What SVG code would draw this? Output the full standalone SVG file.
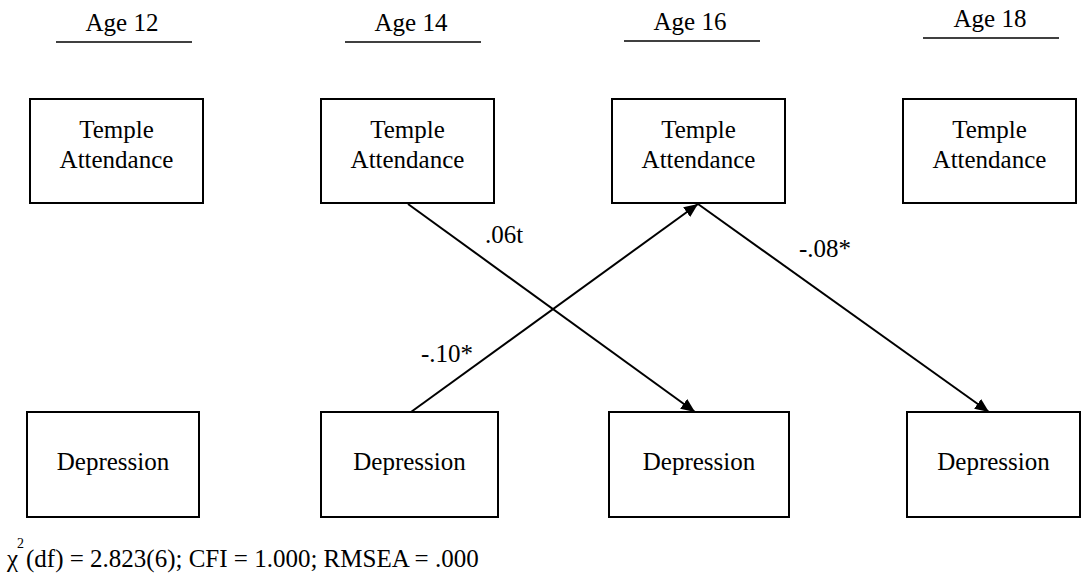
<svg xmlns="http://www.w3.org/2000/svg" width="1086" height="581" viewBox="0 0 1086 581">
  <style>
    .box { fill: #fff; stroke: #000; stroke-width: 2; }
    .rule { stroke: #000; stroke-width: 1.5; }
    .edge { stroke: #000; stroke-width: 2; fill: none; marker-end: url(#arrow); }
  </style>
  <defs>
    <marker id="arrow" markerUnits="userSpaceOnUse" markerWidth="16" markerHeight="14" refX="14" refY="6" orient="auto">
      <path d="M0,0 L14,6 L0,12 Z" fill="#000"/>
    </marker>
  </defs>
  <rect width="1086" height="581" fill="#fff"/>

  <g font-family="'Liberation Serif', 'Times New Roman', serif" font-size="25" fill="#000">
    <!-- wave headers -->
    <g id="headers" text-anchor="middle">
      <text x="122" y="31">Age 12</text>
      <line class="rule" x1="56" y1="42" x2="192" y2="42"/>
      <text x="411" y="31">Age 14</text>
      <line class="rule" x1="345" y1="42" x2="481" y2="42"/>
      <text x="690" y="30">Age 16</text>
      <line class="rule" x1="624" y1="41" x2="760" y2="41"/>
      <text x="990" y="27">Age 18</text>
      <line class="rule" x1="923" y1="38" x2="1059" y2="38"/>
    </g>

    <!-- temple attendance row -->
    <g id="ta12" text-anchor="middle">
      <rect class="box" x="30" y="99" width="173" height="104"/>
      <text x="116.5" y="138">Temple</text>
      <text x="116.5" y="168">Attendance</text>
    </g>
    <g id="ta14" text-anchor="middle">
      <rect class="box" x="321" y="99" width="173" height="104"/>
      <text x="407.5" y="138">Temple</text>
      <text x="407.5" y="168">Attendance</text>
    </g>
    <g id="ta16" text-anchor="middle">
      <rect class="box" x="612" y="99" width="173" height="104"/>
      <text x="698.5" y="138">Temple</text>
      <text x="698.5" y="168">Attendance</text>
    </g>
    <g id="ta18" text-anchor="middle">
      <rect class="box" x="903" y="99" width="173" height="104"/>
      <text x="989.5" y="138">Temple</text>
      <text x="989.5" y="168">Attendance</text>
    </g>

    <!-- depression row -->
    <g id="dep12" text-anchor="middle">
      <rect class="box" x="27" y="412" width="172" height="105"/>
      <text x="113" y="470">Depression</text>
    </g>
    <g id="dep14" text-anchor="middle">
      <rect class="box" x="321" y="412" width="177" height="105"/>
      <text x="409.5" y="470">Depression</text>
    </g>
    <g id="dep16" text-anchor="middle">
      <rect class="box" x="609" y="412" width="180" height="105"/>
      <text x="699" y="470">Depression</text>
    </g>
    <g id="dep18" text-anchor="middle">
      <rect class="box" x="907" y="412" width="173" height="105"/>
      <text x="993.5" y="470">Depression</text>
    </g>

    <!-- cross-lagged paths -->
    <g id="connectors">
      <line class="edge" x1="408" y1="204" x2="695" y2="412"/>
      <line class="edge" x1="411" y1="412" x2="698" y2="204"/>
      <line class="edge" x1="698" y1="204" x2="989" y2="412"/>
    </g>

    <!-- path coefficients -->
    <g id="labels">
      <text x="485" y="243">.06t</text>
      <text x="421" y="362">-.10*</text>
      <text x="799" y="257">-.08*</text>
    </g>

    <!-- fit statistics -->
    <g id="fit">
      <text x="7" y="567">χ</text>
      <text x="17" y="548" font-size="14">2</text>
      <text x="26" y="567">(df) = 2.823(6); CFI = 1.000; RMSEA = .000</text>
    </g>
  </g>
</svg>
